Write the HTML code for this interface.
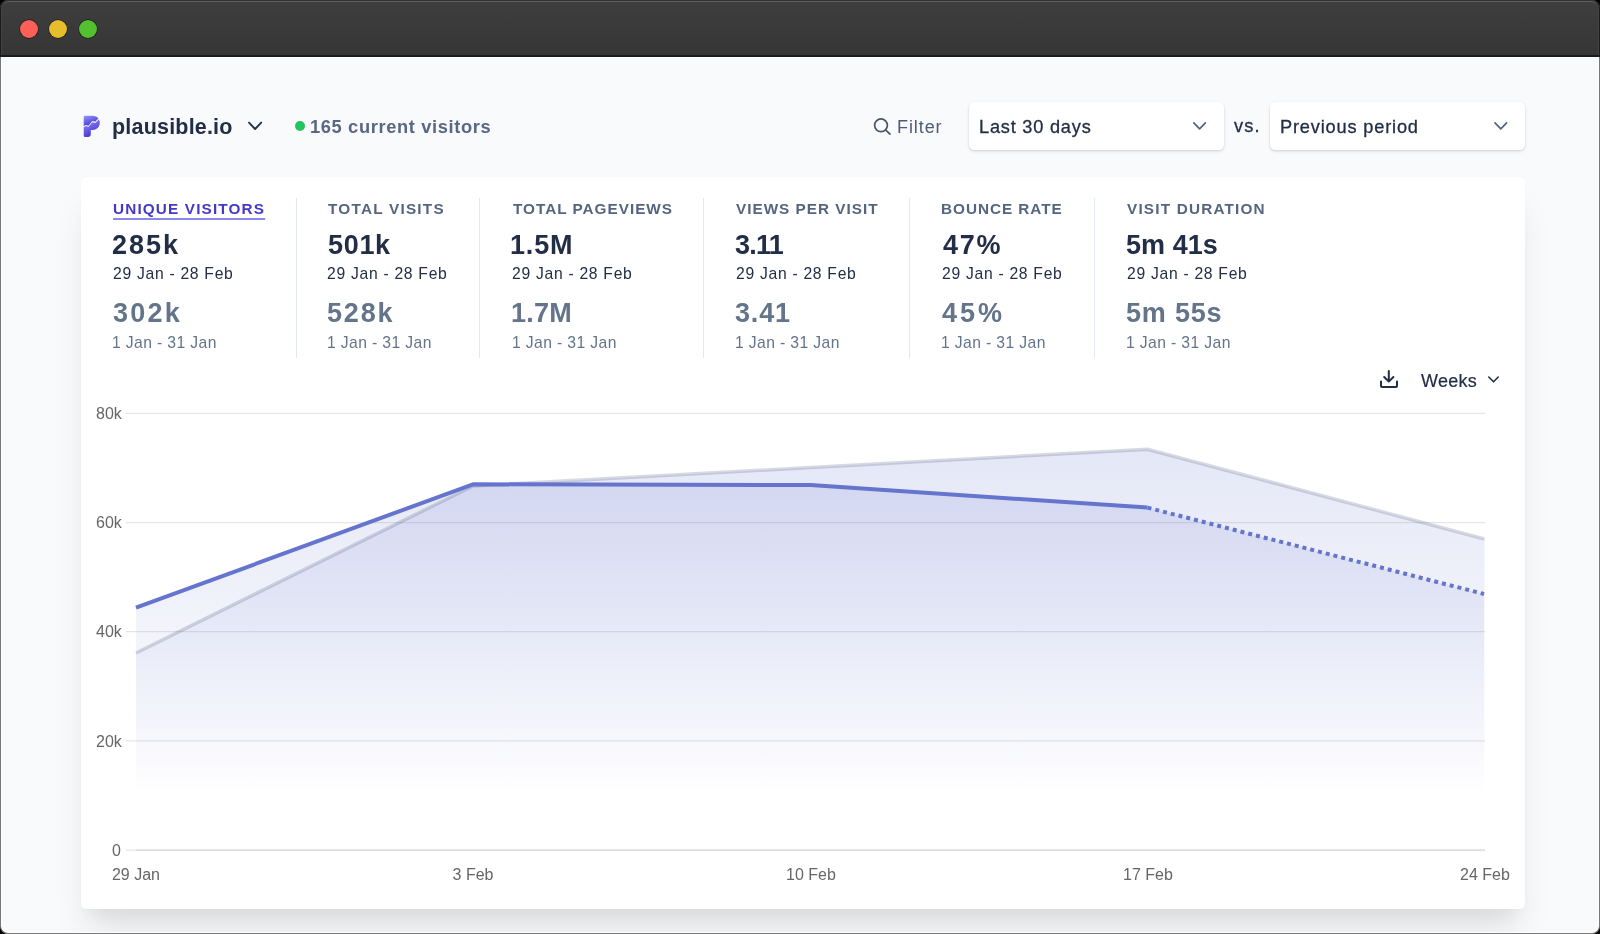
<!DOCTYPE html>
<html><head><meta charset='utf-8'><style>
html,body{margin:0;padding:0;background:#000;width:1600px;height:934px;overflow:hidden}
*{box-sizing:border-box}
.win{position:absolute;left:0;top:0;width:1600px;height:934px;border-radius:8px;overflow:hidden;background:#777}
.tbo{position:absolute;left:0;top:0;width:1600px;height:57px;background:#1b1b1b;border-top:1px solid #333}
.tb{position:absolute;left:1px;top:1px;width:1598px;height:54px;background:linear-gradient(#3e3e3e,#363636);border-top:1px solid #5e5e5e;border-left:1px solid #444;border-right:1px solid #444;border-radius:7px 7px 0 0}
.dot{position:absolute;top:19.7px;width:18.2px;height:18.2px;border-radius:50%;box-shadow:0 0 0 0.7px rgba(0,0,0,0.5)}
.content{position:absolute;left:1px;top:57px;width:1598px;height:876px;background:#f9fafb;border:1px solid #fff;border-radius:0 0 7px 7px}
.t{position:absolute;white-space:nowrap;will-change:transform;font-family:"Liberation Sans",sans-serif}
.box{position:absolute;background:#fff;border-radius:5.3px;box-shadow:0 1px 3px rgba(0,0,0,0.10),0 1px 2px rgba(0,0,0,0.06),0 2px 5px rgba(0,0,0,0.03)}
.card{position:absolute;left:81px;top:177px;width:1444px;height:732px;background:#fff;border-radius:5.5px;box-shadow:0 26.7px 33.3px -6.7px rgba(0,0,0,0.10),0 13.3px 13.3px -6.7px rgba(0,0,0,0.04),0 0 2px rgba(0,0,0,0.02)}
.frame{position:absolute;left:0;top:57px;width:1600px;height:877px;border:1px solid #777;border-top:none;border-radius:0 0 8px 8px;box-shadow:inset 1px -1px 0 #fff,inset -1px 0 0 #fff;pointer-events:none}
</style></head><body>
<div class='win'>
 <div class='tbo'></div><div class='tb'></div>
  <div class='dot' style='left:19.7px;background:#fe5f57'></div>
  <div class='dot' style='left:49px;background:#e6be2d'></div>
  <div class='dot' style='left:78.7px;background:#53c12f'></div>
 <div class='content'></div>
 <div class='box' style='left:968.5px;top:102.3px;width:255.5px;height:48px'></div>
 <div class='box' style='left:1270px;top:102.3px;width:254.8px;height:48px'></div>
 <div class='card'></div>
 <div style='position:absolute;left:294.9px;top:120.8px;width:10.5px;height:10.5px;border-radius:50%;background:#22c55e'></div>
 
<svg width='1600' height='934' style='position:absolute;left:0;top:0'>
<defs>
 <linearGradient id='gm' gradientUnits='userSpaceOnUse' x1='0' y1='395' x2='0' y2='795'>
  <stop offset='0' stop-color='rgb(101,116,205)' stop-opacity='0.2'/>
  <stop offset='1' stop-color='rgb(101,116,205)' stop-opacity='0'/>
 </linearGradient>
 <linearGradient id='gp' gradientUnits='userSpaceOnUse' x1='0' y1='395' x2='0' y2='795'>
  <stop offset='0' stop-color='rgb(101,116,205)' stop-opacity='0.2'/>
  <stop offset='1' stop-color='rgb(101,116,205)' stop-opacity='0'/>
 </linearGradient>
</defs>
<g stroke='rgba(0,0,0,0.1)' stroke-width='1.25'>
 <line x1='126' y1='413.35' x2='1485' y2='413.35'/><line x1='126' y1='522.5' x2='1485' y2='522.5'/><line x1='126' y1='631.7' x2='1485' y2='631.7'/><line x1='126' y1='740.85' x2='1485' y2='740.85'/><line x1='126' y1='850.0' x2='1485' y2='850.0'/>
</g>
<line x1='136' y1='850' x2='1485' y2='850' stroke='rgba(0,0,0,0.08)' stroke-width='1.25'/>
<path d='M136,850 L136,653 L473,486 L810.5,467.5 L1147.5,449.2 L1484.5,539 L1484.5,850 Z' fill='url(#gp)'/>
<path d='M136,850 L136,607.7 L473,484.3 L810.5,485 L1147.5,507.6 L1484,594 L1484,850 Z' fill='url(#gm)'/>
<polyline points='136,653 473,486 810.5,467.5 1147.5,449.2 1484.5,539' fill='none' stroke='rgba(60,70,110,0.2)' stroke-width='3.5' stroke-linejoin='round'/>
<polyline points='136,607.7 473,484.3 810.5,485 1147.5,507.6' fill='none' stroke='rgb(101,116,205)' stroke-width='4' stroke-linejoin='round'/>
<polyline points='1147.5,507.6 1484,594' fill='none' stroke='rgb(101,116,205)' stroke-width='4' stroke-dasharray='4 4'/>
</svg>
 
<svg width='1600' height='934' style='position:absolute;left:0;top:0' fill='none' stroke-linecap='round' stroke-linejoin='round'>
 <!-- header chevron -->
 <polyline points='249,122.6 255.1,129 261.2,122.6' stroke='#233049' stroke-width='1.85'/>
 <!-- search -->
 <circle cx='881' cy='125.3' r='6.4' stroke='#475569' stroke-width='1.7'/>
 <line x1='885.6' y1='129.9' x2='890' y2='134.2' stroke='#475569' stroke-width='1.7'/>
 <!-- dropdown chevrons -->
 <polyline points='1193.8,122.8 1199.6,128.8 1205.4,122.8' stroke='#54637e' stroke-width='1.7'/>
 <polyline points='1495,122.8 1500.8,128.8 1506.6,122.8' stroke='#54637e' stroke-width='1.7'/>
 <!-- download -->
 <path d='M1381,381.5 v4.5 a1,1 0 0 0 1,1 h14 a1,1 0 0 0 1,-1 v-4.5' stroke='#222e46' stroke-width='2'/>
 <path d='M1388.8,371 v10.5 M1384.2,377 l4.6,4.6 l4.6,-4.6' stroke='#222e46' stroke-width='2'/>
 <!-- weeks chevron -->
 <polyline points='1488.8,377 1493.5,381.8 1498.2,377' stroke='#222e46' stroke-width='1.6'/>
 <defs>
  <linearGradient id='lg' x1='0.15' y1='0' x2='0.65' y2='1'><stop offset='0' stop-color='#8f95f5'/><stop offset='1' stop-color='#4326d6'/></linearGradient>
 </defs>
 <path d='M83.7,126.1 L83.7,116.9 Q83.7,115.7 84.9,115.7 L92.65,115.7 A7.15,7.15 0 0 1 98.5,118.3 L95.3,121.7 L92.3,121.0 L88.4,125.8 L86,124.9 Z' fill='url(#lg)' stroke='none'/>
 <path d='M83.7,127.3 L86,126.1 L88.4,127.0 L92.3,122.2 L95.3,122.9 L98.9,119.4 A7.15,7.15 0 0 1 92.65,130 L90.8,130 L90.8,134 Q90.8,136.9 87.9,136.9 L85.2,136.9 Q83.7,136.9 83.7,135.4 Z' fill='url(#lg)' stroke='none'/>
</svg>
 <div class='t' style='left:111.60px;top:116.80px;font-size:21.5px;line-height:21.5px;font-weight:700;color:#222e46;letter-spacing:0.195px;'>plausible.io</div><div class='t' style='left:310.12px;top:117.91px;font-size:18.3px;line-height:18.3px;font-weight:700;color:#586783;letter-spacing:0.635px;'>165 current visitors</div><div class='t' style='left:897.22px;top:117.86px;font-size:18px;line-height:18px;font-weight:400;color:#4d5c78;letter-spacing:0.915px;'>Filter</div><div class='t' style='left:979.00px;top:117.69px;font-size:18.2px;line-height:18.2px;font-weight:400;color:#222e46;letter-spacing:0.781px;-webkit-text-stroke:0.3px #222e46;'>Last 30 days</div><div class='t' style='left:1234.38px;top:117.39px;font-size:18.2px;line-height:18.2px;font-weight:400;color:#222e46;letter-spacing:1.118px;-webkit-text-stroke:0.3px #222e46;'>vs.</div><div class='t' style='left:1280.30px;top:117.69px;font-size:18.2px;line-height:18.2px;font-weight:400;color:#222e46;letter-spacing:0.828px;-webkit-text-stroke:0.3px #222e46;'>Previous period</div><div class='t' style='left:112.83px;top:201.15px;font-size:15.3px;line-height:15.3px;font-weight:700;color:#4338ca;letter-spacing:1.151px;text-decoration:underline;text-decoration-color:#8a86ea;text-decoration-thickness:1.6px;text-underline-offset:4px;'>UNIQUE VISITORS</div><div class='t' style='left:112.31px;top:231.54px;font-size:27px;line-height:27px;font-weight:700;color:#222e46;letter-spacing:1.946px;'>285k</div><div class='t' style='left:113.01px;top:265.91px;font-size:15.7px;line-height:15.7px;font-weight:400;color:#222e46;letter-spacing:0.71px;'>29 Jan - 28 Feb</div><div class='t' style='left:112.68px;top:300.14px;font-size:27px;line-height:27px;font-weight:700;color:#64748b;letter-spacing:2.244px;'>302k</div><div class='t' style='left:112.08px;top:335.21px;font-size:15.7px;line-height:15.7px;font-weight:400;color:#64748b;letter-spacing:0.38px;'>1 Jan - 31 Jan</div><div class='t' style='left:328.22px;top:201.15px;font-size:15.3px;line-height:15.3px;font-weight:700;color:#56657f;letter-spacing:1.242px;'>TOTAL VISITS</div><div class='t' style='left:327.67px;top:231.54px;font-size:27px;line-height:27px;font-weight:700;color:#222e46;letter-spacing:0.672px;'>501k</div><div class='t' style='left:327.41px;top:265.91px;font-size:15.7px;line-height:15.7px;font-weight:400;color:#222e46;letter-spacing:0.71px;'>29 Jan - 28 Feb</div><div class='t' style='left:327.32px;top:300.14px;font-size:27px;line-height:27px;font-weight:700;color:#64748b;letter-spacing:1.858px;'>528k</div><div class='t' style='left:327.48px;top:335.21px;font-size:15.7px;line-height:15.7px;font-weight:400;color:#64748b;letter-spacing:0.38px;'>1 Jan - 31 Jan</div><div class='t' style='left:512.62px;top:201.15px;font-size:15.3px;line-height:15.3px;font-weight:700;color:#56657f;letter-spacing:0.994px;'>TOTAL PAGEVIEWS</div><div class='t' style='left:510.41px;top:231.54px;font-size:27px;line-height:27px;font-weight:700;color:#222e46;letter-spacing:0.814px;'>1.5M</div><div class='t' style='left:511.81px;top:265.91px;font-size:15.7px;line-height:15.7px;font-weight:400;color:#222e46;letter-spacing:0.71px;'>29 Jan - 28 Feb</div><div class='t' style='left:510.85px;top:300.14px;font-size:27px;line-height:27px;font-weight:700;color:#64748b;letter-spacing:0.208px;'>1.7M</div><div class='t' style='left:511.88px;top:335.21px;font-size:15.7px;line-height:15.7px;font-weight:400;color:#64748b;letter-spacing:0.38px;'>1 Jan - 31 Jan</div><div class='t' style='left:736.06px;top:201.15px;font-size:15.3px;line-height:15.3px;font-weight:700;color:#56657f;letter-spacing:1.002px;'>VIEWS PER VISIT</div><div class='t' style='left:735.19px;top:231.54px;font-size:27px;line-height:27px;font-weight:700;color:#222e46;letter-spacing:-0.797px;'>3.11</div><div class='t' style='left:735.51px;top:265.91px;font-size:15.7px;line-height:15.7px;font-weight:400;color:#222e46;letter-spacing:0.71px;'>29 Jan - 28 Feb</div><div class='t' style='left:734.78px;top:300.14px;font-size:27px;line-height:27px;font-weight:700;color:#64748b;letter-spacing:0.825px;'>3.41</div><div class='t' style='left:734.58px;top:335.21px;font-size:15.7px;line-height:15.7px;font-weight:400;color:#64748b;letter-spacing:0.38px;'>1 Jan - 31 Jan</div><div class='t' style='left:941.33px;top:201.15px;font-size:15.3px;line-height:15.3px;font-weight:700;color:#56657f;letter-spacing:0.969px;'>BOUNCE RATE</div><div class='t' style='left:942.91px;top:231.54px;font-size:27px;line-height:27px;font-weight:700;color:#222e46;letter-spacing:1.792px;'>47%</div><div class='t' style='left:942.01px;top:265.91px;font-size:15.7px;line-height:15.7px;font-weight:400;color:#222e46;letter-spacing:0.71px;'>29 Jan - 28 Feb</div><div class='t' style='left:942.46px;top:300.14px;font-size:27px;line-height:27px;font-weight:700;color:#64748b;letter-spacing:2.992px;'>45%</div><div class='t' style='left:941.08px;top:335.21px;font-size:15.7px;line-height:15.7px;font-weight:400;color:#64748b;letter-spacing:0.38px;'>1 Jan - 31 Jan</div><div class='t' style='left:1127.06px;top:201.15px;font-size:15.3px;line-height:15.3px;font-weight:700;color:#56657f;letter-spacing:1.195px;'>VISIT DURATION</div><div class='t' style='left:1126.07px;top:231.54px;font-size:27px;line-height:27px;font-weight:700;color:#222e46;letter-spacing:0.047px;'>5m 41s</div><div class='t' style='left:1126.51px;top:265.91px;font-size:15.7px;line-height:15.7px;font-weight:400;color:#222e46;letter-spacing:0.71px;'>29 Jan - 28 Feb</div><div class='t' style='left:1125.72px;top:300.14px;font-size:27px;line-height:27px;font-weight:700;color:#64748b;letter-spacing:0.784px;'>5m 55s</div><div class='t' style='left:1125.58px;top:335.21px;font-size:15.7px;line-height:15.7px;font-weight:400;color:#64748b;letter-spacing:0.38px;'>1 Jan - 31 Jan</div><div class='t' style='left:1420.90px;top:371.76px;font-size:18px;line-height:18px;font-weight:400;color:#222e46;letter-spacing:0.296px;-webkit-text-stroke:0.2px #222e46;'>Weeks</div><div style='position:absolute;left:295.5px;top:198px;width:1px;height:160px;background:#e2e8f0'></div><div style='position:absolute;left:479.0px;top:198px;width:1px;height:160px;background:#e2e8f0'></div><div style='position:absolute;left:702.5px;top:198px;width:1px;height:160px;background:#e2e8f0'></div><div style='position:absolute;left:908.5px;top:198px;width:1px;height:160px;background:#e2e8f0'></div><div style='position:absolute;left:1093.5px;top:198px;width:1px;height:160px;background:#e2e8f0'></div><div class='t' style='right:1478.70px;text-align:right;top:406.11px;font-size:16px;line-height:16px;font-weight:400;color:#666;letter-spacing:0px;'>80k</div><div class='t' style='right:1478.70px;text-align:right;top:515.26px;font-size:16px;line-height:16px;font-weight:400;color:#666;letter-spacing:0px;'>60k</div><div class='t' style='right:1478.70px;text-align:right;top:624.46px;font-size:16px;line-height:16px;font-weight:400;color:#666;letter-spacing:0px;'>40k</div><div class='t' style='right:1478.70px;text-align:right;top:733.61px;font-size:16px;line-height:16px;font-weight:400;color:#666;letter-spacing:0px;'>20k</div><div class='t' style='right:1478.70px;text-align:right;top:842.76px;font-size:16px;line-height:16px;font-weight:400;color:#666;letter-spacing:0px;'>0</div><div class='t' style='left:-64.00px;width:400px;text-align:center;top:866.96px;font-size:16px;line-height:16px;font-weight:400;color:#666;letter-spacing:0px;'>29 Jan</div><div class='t' style='left:273.00px;width:400px;text-align:center;top:866.96px;font-size:16px;line-height:16px;font-weight:400;color:#666;letter-spacing:0px;'>3 Feb</div><div class='t' style='left:610.50px;width:400px;text-align:center;top:866.96px;font-size:16px;line-height:16px;font-weight:400;color:#666;letter-spacing:0px;'>10 Feb</div><div class='t' style='left:947.50px;width:400px;text-align:center;top:866.96px;font-size:16px;line-height:16px;font-weight:400;color:#666;letter-spacing:0px;'>17 Feb</div><div class='t' style='left:1284.50px;width:400px;text-align:center;top:866.96px;font-size:16px;line-height:16px;font-weight:400;color:#666;letter-spacing:0px;'>24 Feb</div>
 <div class='frame'></div>
</div>
</body></html>
